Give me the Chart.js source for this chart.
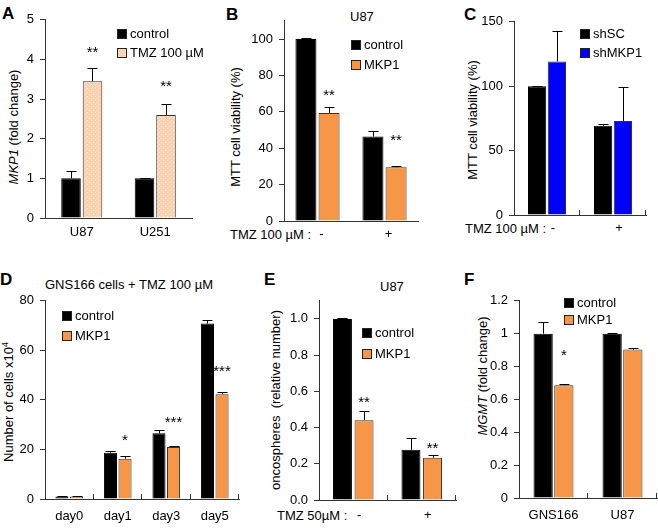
<!DOCTYPE html>
<html>
<head>
<meta charset="utf-8">
<script src="https://cdn.jsdelivr.net/npm/chart.js@4.4.0/dist/chart.umd.min.js"></script>
<style>
  body { margin: 0; width: 658px; height: 530px; position: relative; overflow: hidden; background: #fff;
         font-family: "Liberation Sans", Arial, sans-serif; color: #000; }
  canvas { position: absolute; }
  .txt { position: absolute; font-size: 13px; line-height: 15px; white-space: nowrap; }
  .lbl { position: absolute; font-size: 17px; line-height: 17px; font-weight: bold; }
  .yt { position: absolute; font-size: 13px; line-height: 15px; white-space: nowrap;
        transform: translate(-50%, -50%) rotate(-90deg); }
  .yt sup { font-size: 9px; line-height: 0; vertical-align: 5px; }
</style>
</head>
<body>

<div class="lbl" style="left:2px;top:5px">A</div>
<div class="lbl" style="left:226px;top:6px">B</div>
<div class="lbl" style="left:464px;top:6px">C</div>
<div class="lbl" style="left:0px;top:271px">D</div>
<div class="lbl" style="left:264px;top:271px">E</div>
<div class="lbl" style="left:464px;top:271px">F</div>

<div class="txt" style="left:350px;top:9px">U87</div>
<div class="txt" style="left:45px;top:277px">GNS166 cells + TMZ 100 µM</div>
<div class="txt" style="left:380px;top:279px">U87</div>

<div class="txt" style="left:230px;top:227px">TMZ 100 µM :</div>
<div class="txt" style="left:465px;top:221px">TMZ 100 µM :</div>
<div class="txt" style="left:277px;top:508px">TMZ 50µM :</div>

<div class="yt" style="left:13px;top:127px"><i>MKP1</i> (fold change)</div>
<div class="yt" style="left:235px;top:127px">MTT cell viability (%)</div>
<div class="yt" style="left:472px;top:120px">MTT cell viability (%)</div>
<div class="yt" style="left:8px;top:402px">Number of cells x10<sup>4</sup></div>
<div class="yt" style="left:275px;top:400px">oncospheres&nbsp; (relative number)</div>
<div class="yt" style="left:482px;top:376px"><i>MGMT</i> (fold change)</div>

<script>
// A: MKP1 expression after TMZ
const aCats = ["U87", "U251"];
const aControl = [1.0, 1.0];
const aControlErr = [0.18, 0.01];
const aTmz = [3.45, 2.6];
const aTmzErr = [0.33, 0.28];
const aTmzStars = ["**", "**"];

// B: U87 MTT viability
const bCats = ["-", "+"];
const bControl = [100, 46.4];
const bControlErr = [0.3, 3];
const bMkp1 = [59.4, 29.5];
const bMkp1Err = [3, 0.5];
const bStars = ["**", "**"];

// C: shRNA MTT viability
const cCats = ["-", "+"];
const cShSC = [100, 69.2];
const cShSCErr = [0.4, 1.8];
const cShMKP1 = [119.2, 73];
const cShMKP1Err = [23.6, 26.5];

// D: GNS166 cell counts
const dCats = ["day0", "day1", "day3", "day5"];
const dControl = [1, 18.7, 26.5, 70.8];
const dControlErr = [0.2, 0.5, 1.5, 1.5];
const dMkp1 = [1, 16.2, 21, 42.3];
const dMkp1Err = [0.1, 1, 0.4, 0.8];
const dStars = ["", "*", "***", "***"];

// E: oncospheres
const eCats = ["-", "+"];
const eControl = [1.0, 0.277];
const eControlErr = [0.003, 0.064];
const eMkp1 = [0.441, 0.233];
const eMkp1Err = [0.05, 0.013];
const eStars = ["**", "**"];

// F: MGMT expression
const fCats = ["GNS166", "U87"];
const fControl = [1.0, 1.0];
const fControlErr = [0.07, 0.003];
const fMkp1 = [0.686, 0.903];
const fMkp1Err = [0.005, 0.01];
const fStars = ["*", ""];

const FONT = '"Liberation Sans", Arial, sans-serif';
const AXIS = "#333";
const ORANGE = "#f79646";
const BLUE = "#0000ff";

function peachPattern() {
  const c = document.createElement("canvas");
  c.width = 4; c.height = 4;
  const g = c.getContext("2d");
  g.fillStyle = "#fbd2b0";
  g.fillRect(0, 0, 4, 4);
  g.fillStyle = "#fee9da";
  g.fillRect(0, 0, 1, 1);
  g.fillRect(2, 2, 1, 1);
  return g.createPattern(c, "repeat");
}

const errorBars = {
  id: "errorBars",
  afterDatasetsDraw(chart) {
    const ctx = chart.ctx, y = chart.scales.y;
    ctx.save();
    ctx.strokeStyle = "#000";
    ctx.lineWidth = 1;
    chart.data.datasets.forEach((ds, i) => {
      if (!ds.errors) return;
      chart.getDatasetMeta(i).data.forEach((bar, j) => {
        const x = Math.round(bar.x) + 0.5;
        const top = Math.round(y.getPixelForValue(ds.data[j] + ds.errors[j])) + 0.5;
        ctx.beginPath();
        ctx.moveTo(x, bar.y);
        ctx.lineTo(x, top);
        ctx.moveTo(x - 5, top);
        ctx.lineTo(x + 5, top);
        ctx.stroke();
      });
    });
    ctx.restore();
  }
};

const stars = {
  id: "stars",
  afterDatasetsDraw(chart, args, opts) {
    const ctx = chart.ctx, y = chart.scales.y;
    ctx.save();
    ctx.font = "15px " + FONT;
    ctx.fillStyle = "#000";
    ctx.textAlign = "center";
    ctx.textBaseline = "alphabetic";
    chart.data.datasets.forEach((ds, i) => {
      if (!ds.stars) return;
      chart.getDatasetMeta(i).data.forEach((bar, j) => {
        if (!ds.stars[j]) return;
        const top = y.getPixelForValue(ds.data[j] + ds.errors[j]);
        ctx.fillText(ds.stars[j], bar.x, top - opts.lift[j] + 8.5);
      });
    });
    ctx.restore();
  }
};

const boxLegend = {
  id: "boxLegend",
  afterDraw(chart, args, o) {
    const ctx = chart.ctx;
    const ox = chart.canvas.offsetLeft, oy = chart.canvas.offsetTop;
    ctx.save();
    ctx.font = "13px " + FONT;
    ctx.textBaseline = "middle";
    chart.data.datasets.forEach((ds, i) => {
      const x = o.x - ox, y = o.y - oy + i * o.gap;
      ctx.fillStyle = ds.backgroundColor;
      ctx.fillRect(x, y, 10, 10);
      ctx.strokeStyle = "#222";
      ctx.lineWidth = 1;
      ctx.strokeRect(x + 0.5, y + 0.5, 9, 9);
      ctx.fillStyle = "#000";
      ctx.fillText(ds.label, x + 13, y + 5.5);
    });
    ctx.restore();
  }
};

// small upward marks on the category axis, Excel style
const innerTicks = {
  id: "innerTicks",
  afterDraw(chart) {
    const a = chart.chartArea, n = chart.data.labels.length;
    const ctx = chart.ctx;
    ctx.save();
    ctx.strokeStyle = AXIS;
    ctx.lineWidth = 1;
    ctx.beginPath();
    for (let i = 1; i <= n; i++) {
      const px = Math.round(a.left + (a.right - a.left) * i / n) - 0.5;
      ctx.moveTo(px, a.bottom);
      ctx.lineTo(px, a.bottom - 5);
    }
    ctx.stroke();
    ctx.restore();
  }
};

function barPanel(p) {
  const [L, T, R, B] = p.area;
  const left = L - 40, top = T - 12;
  const cv = document.createElement("canvas");
  cv.width = R + p.padR - left;
  cv.height = B + 30 - top;
  cv.style.left = left + "px";
  cv.style.top = top + "px";
  document.body.appendChild(cv);

  return new Chart(cv, {
    type: "bar",
    data: { labels: p.labels, datasets: p.datasets },
    options: {
      responsive: false,
      animation: false,
      layout: { padding: { left: 0, top: 12, right: p.padR, bottom: 0 } },
      datasets: {
        bar: { categoryPercentage: p.cat, barPercentage: p.bar, borderWidth: 1, borderSkipped: "start" }
      },
      plugins: {
        legend: { display: false },
        tooltip: { enabled: false },
        boxLegend: p.legend,
        stars: { lift: p.lift || [] }
      },
      scales: {
        x: {
          grid: { display: false, drawTicks: false },
          border: { color: AXIS, width: 1 },
          ticks: { color: "#000", font: { size: 13, family: FONT }, padding: p.xPad,
                   labelOffset: p.xOff || 0, maxRotation: 0, autoSkip: false },
          afterFit: s => { s.height = 30; }
        },
        y: {
          min: 0,
          max: p.yMax,
          grid: { drawOnChartArea: false, drawTicks: true, tickLength: 5, color: AXIS },
          border: { color: AXIS, width: 1 },
          ticks: { stepSize: p.step, includeBounds: false, padding: 6, color: "#000",
                   font: { size: 13, family: FONT }, callback: p.fmt || (v => v) },
          afterFit: s => { s.width = 40; }
        }
      }
    },
    plugins: p.inner ? [errorBars, stars, boxLegend, innerTicks] : [errorBars, stars, boxLegend]
  });
}

function blackSet(label, data, errors) {
  return { label, data, errors, backgroundColor: "#000", borderColor: "#000" };
}
function colorSet(label, data, errors, color, starList) {
  return { label, data, errors, stars: starList, backgroundColor: color, borderColor: "#333" };
}

// A
barPanel({
  area: [45, 18, 192, 218], padR: 30,
  labels: aCats, yMax: 5, step: 1, xPad: 7, cat: 0.585, bar: 0.91, inner: false,
  datasets: [blackSet("control", aControl, aControlErr),
             colorSet("TMZ 100 µM", aTmz, aTmzErr, peachPattern(), aTmzStars)],
  legend: { x: 117, y: 29, gap: 19 },
  lift: [20, 21]
});

// B
barPanel({
  area: [284, 19, 418, 221], padR: 10,
  labels: bCats, yMax: 110, step: 20, xPad: 6, xOff: 4, cat: 0.69, bar: 0.91, inner: false,
  datasets: [blackSet("control", bControl, bControlErr),
             colorSet("MKP1", bMkp1, bMkp1Err, ORANGE, bStars)],
  legend: { x: 351, y: 40, gap: 20 },
  lift: [16, 30]
});

// C
barPanel({
  area: [514, 20, 646, 215], padR: 8,
  labels: cCats, yMax: 150, step: 50, xPad: 6, xOff: 6, cat: 0.6, bar: 0.92, inner: true,
  datasets: [blackSet("shSC", cShSC, cShSCErr),
             colorSet("shMKP1", cShMKP1, cShMKP1Err, BLUE)],
  legend: { x: 580, y: 29, gap: 19 }
});

// D
barPanel({
  area: [45, 299, 239, 499], padR: 10,
  labels: dCats, yMax: 80, step: 20, xPad: 10, cat: 0.6, bar: 0.9, inner: true,
  datasets: [blackSet("control", dControl, dControlErr),
             colorSet("MKP1", dMkp1, dMkp1Err, ORANGE, dStars)],
  legend: { x: 62, y: 311, gap: 20 },
  lift: [0, 20, 27, 25]
});

// E
barPanel({
  area: [319, 299, 456, 500], padR: 10,
  labels: eCats, yMax: 1.1, step: 0.2, xPad: 8, xOff: 6, cat: 0.63, bar: 0.88, inner: true,
  fmt: v => v.toFixed(1),
  datasets: [blackSet("control", eControl, eControlErr),
             colorSet("MKP1", eMkp1, eMkp1Err, ORANGE, eStars)],
  legend: { x: 362, y: 328, gap: 21 },
  lift: [13, 11]
});

// F
barPanel({
  area: [519, 299, 657, 498], padR: 1,
  labels: fCats, yMax: 1.2, step: 0.2, xPad: 10, cat: 0.6, bar: 0.93, inner: true,
  fmt: v => String(Math.round(v * 10) / 10),
  datasets: [blackSet("control", fControl, fControlErr),
             colorSet("MKP1", fMkp1, fMkp1Err, ORANGE, fStars)],
  legend: { x: 564, y: 298, gap: 17 },
  lift: [33, 0]
});
</script>
</body>
</html>
